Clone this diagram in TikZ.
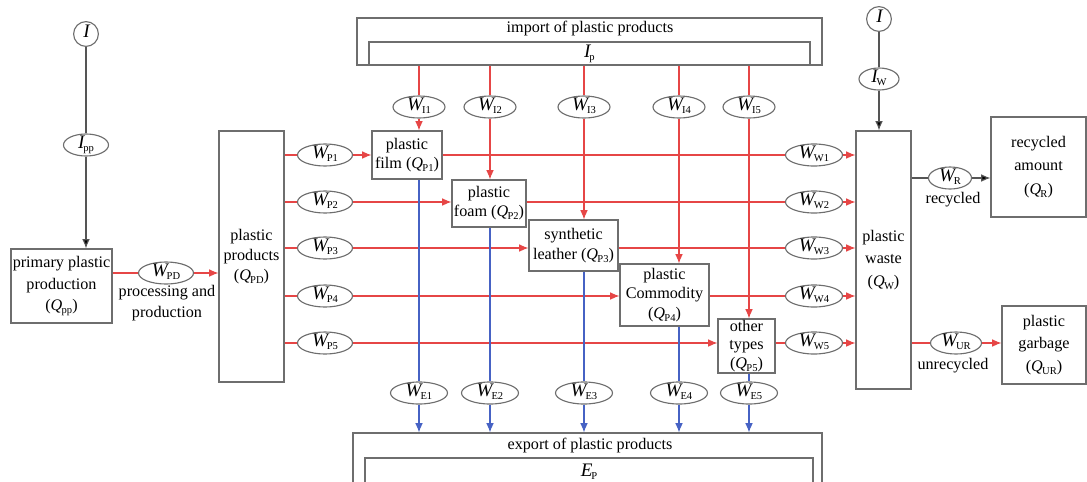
\documentclass[tikz,border=0pt]{standalone}
\usepackage{fontspec}
\setmainfont{LiberationSerif}[Extension=.ttf,UprightFont=*-Regular,ItalicFont=*-Italic,BoldFont=*-Bold,BoldItalicFont=*-BoldItalic]
\usepackage{xcolor}
\usepackage{tikz}
\usetikzlibrary{arrows.meta,shapes.geometric}
\definecolor{FlowRed}{RGB}{230,70,70}
\definecolor{ExportBlue}{RGB}{70,98,196}
\definecolor{FrameGray}{RGB}{110,110,110}
\definecolor{InputGray}{RGB}{85,85,85}
\newcommand{\fl}[2]{{\fontsize{13.6}{14}\selectfont\itshape #1}\kern-0.8pt\raisebox{-2pt}{\fontsize{7.5}{8}\selectfont #2}}
\newcommand{\qv}[1]{(\textit{Q}\kern-0.5pt\raisebox{-0.4ex}{\fontsize{7.5}{8}\selectfont #1})}

\begin{document}
\begin{tikzpicture}[x=0.025cm,y=-0.025cm,>=Latex,font=\fontsize{11.5}{15}\selectfont,
  box/.style={draw=FrameGray,line width=0.9pt,align=center,inner sep=1pt},
  flow/.style={ellipse,draw=FrameGray,line width=0.8pt,fill=white,inner sep=0pt,
    text height=7pt,text depth=1.4pt,minimum height=0.55cm},
  src/.style={circle,draw=FrameGray,line width=0.8pt,fill=white,inner sep=0pt,
    text height=7pt,text depth=1.4pt,minimum size=0.62cm},
  redline/.style={FlowRed,line width=0.8pt},
  redarr/.style={redline,-{Latex[length=6.5pt,width=5.5pt]}},
  blueline/.style={ExportBlue,line width=0.8pt},
  bluearr/.style={blueline,-{Latex[length=6.5pt,width=5.5pt]}},
  grayline/.style={InputGray,line width=0.8pt},
  grayarr/.style={grayline,-{Latex[length=6.5pt,width=5.5pt,fill=black]}}]
  \useasboundingbox (0,0) rectangle (1087,481);

  % Primary production
  \node[src] (isrc) at (86,34) {\fl{I}{}};
  \node[flow,minimum width=1.125cm] (ipp) at (86,145) {\fl{I}{pp}};
  \node[box,minimum width=2.525cm,minimum height=1.85cm] (pp) at (61.5,286)
    {primary plastic\\production\\\qv{pp}};
  \node[flow,minimum width=1.375cm] (wpd) at (166,273) {\fl{W}{PD}};
  \node[align=center,font=\fontsize{11.5}{14.5}\selectfont] (proc) at (167,303) {processing and\\production};
  \node[box,minimum width=1.625cm,minimum height=6.275cm,font=\fontsize{11.5}{14}\selectfont] (pd) at (251.5,256.5)
    {plastic\\products\\\qv{PD}};
  \draw[grayline] (isrc) -- (ipp);
  \draw[grayarr] (ipp) -- (ipp |- pp.north);
  \draw[redline] (wpd -| pp.east) -- (wpd);
  \draw[redarr] (wpd) -- (wpd -| pd.west);

  % Import and export frames
  \node[box,minimum width=11.625cm,minimum height=1.175cm] (imp) at (589.5,41.5) {};
  \node (imptxt) at (590,29) {import of plastic products};
  \node[box,minimum width=11.025cm,minimum height=0.575cm] (ip) at (589.5,53.5) {\fl{I}{p}};
  \node[box,minimum width=11.725cm,minimum height=1.35cm] (exp) at (587.5,460) {};
  \node (exptxt) at (590,446) {export of plastic products};
  \node[box,minimum width=11.2cm,minimum height=0.7cm] (ep) at (589,472) {\fl{E}{P}};

  % Product categories
  \node[box,minimum width=1.75cm,minimum height=1.2cm,font=\fontsize{11.5}{13}\selectfont] (film) at (407,155) {plastic\\film \qv{P1}};
  \node[box,minimum width=1.85cm,minimum height=1.175cm,font=\fontsize{11.5}{13.5}\selectfont] (foam) at (489,203.5) {plastic\\foam \qv{P2}};
  \node[box,minimum width=2.225cm,minimum height=1.275cm,font=\fontsize{11.5}{14}\selectfont] (leather) at (573.5,245.5) {synthetic\\leather \qv{P3}};
  \node[box,minimum width=2.225cm,minimum height=1.55cm,font=\fontsize{11.5}{14}\selectfont] (comm) at (664.5,295) {plastic\\Commodity\\\qv{P4}};
  \node[box,minimum width=1.425cm,minimum height=1.35cm,font=\fontsize{11.5}{13}\selectfont] (other) at (746.5,346) {other\\types\\\qv{P5}};

  % Waste and its fate
  \node[src] (isrc2) at (879,19) {\fl{I}{}};
  \node[flow,minimum width=1.0cm] (iw) at (879,79) {\fl{I}{W}};
  \node[box,minimum width=1.375cm,minimum height=6.45cm,font=\fontsize{11.5}{16}\selectfont] (waste) at (883.5,260) {plastic\\waste\\\qv{W}};
  \node[box,minimum width=2.375cm,minimum height=2.5cm,font=\fontsize{11.5}{16.5}\selectfont] (recyc) at (1038.5,167) {recycled\\amount\\\qv{R}};
  \node[box,minimum width=2.1cm,minimum height=1.95cm,font=\fontsize{11.5}{16}\selectfont] (garb) at (1044,345) {plastic\\garbage\\\qv{UR}};
  \node[flow,minimum width=1.075cm] (wr) at (950,178) {\fl{W}{R}};
  \node (rtxt) at (953,200) {recycled};
  \node[flow,minimum width=1.275cm] (wur) at (956,343) {\fl{W}{UR}};
  \node (utxt) at (953,366) {unrecycled};
  \draw[grayline] (isrc2) -- (iw);
  \draw[grayarr] (iw) -- (iw |- waste.north);
  \draw[grayline] (wr -| waste.east) -- (wr);
  \draw[grayarr] (wr) -- (wr -| recyc.west);
  \draw[redline] (wur -| waste.east) -- (wur);
  \draw[redarr] (wur) -- (wur -| garb.west);

  % Flows of each category
  \foreach \i/\y/\b in {1/155/film,2/202/foam,3/248/leather,4/296/comm,5/343/other}{
    \node[flow,minimum width=1.375cm] (wp\i) at (325,\y) {\fl{W}{P\i}};
    \node[flow,minimum width=1.425cm] (ww\i) at (814,\y) {\fl{W}{W\i}};
    \draw[redline] (wp\i -| pd.east) -- (wp\i);
    \draw[redarr] (wp\i) -- (wp\i -| \b.west);
    \draw[redline] (wp\i -| \b.east) -- (ww\i);
    \draw[redarr] (ww\i) -- (ww\i -| waste.west);
  }
  \foreach \i/\x/\b in {1/419/film,2/490/foam,3/584/leather,4/679/comm,5/749/other}{
    \node[flow,minimum width=1.3cm] (wi\i) at (\x,107) {\fl{W}{I\i}};
    \node[flow,minimum width=1.425cm] (we\i) at (\x,393) {\fl{W}{E\i}};
    \draw[redline] (wi\i |- ip.south) -- (wi\i);
    \draw[redarr] (wi\i) -- (wi\i |- \b.north);
    \draw[blueline] (we\i |- \b.south) -- (we\i);
    \draw[bluearr] (we\i) -- (we\i |- exp.north);
  }
\end{tikzpicture}
\end{document}
